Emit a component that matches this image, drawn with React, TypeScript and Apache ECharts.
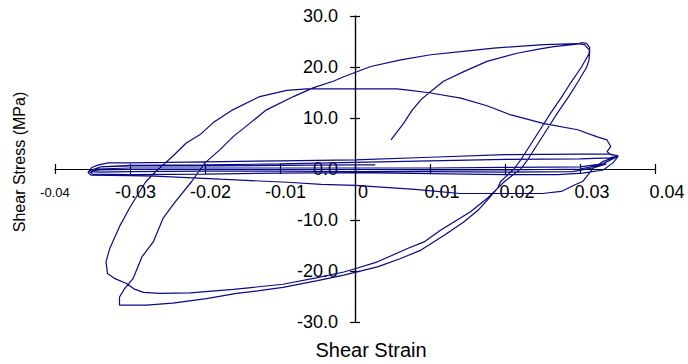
import React, { useEffect, useRef } from 'react';
import * as echarts from 'echarts';

const xTickLabels = ['-0.04', '-0.03', '-0.02', '-0.01', '0', '0.01', '0.02', '0.03', '0.04'];
const yTickLabels = ['-30.0', '-20.0', '-10.0', '0.0', '10.0', '20.0', '30.0'];

type Pt = [number, number];

// [shear strain, shear stress (MPa)]
const initialLoading: Pt[] = [
  [0.0048, 5.7], [0.0065, 9.0], [0.0076, 11.5], [0.0088, 13.6], [0.0101, 15.2], [0.0118, 17.2],
  [0.0145, 19.1], [0.0176, 21.1], [0.0216, 22.7], [0.0245, 23.5], [0.0265, 24.0], [0.0296, 24.5],
  [0.0303, 24.8], [0.0309, 24.6], [0.0313, 23.8], [0.0312, 22.6],
];
const unloadP: Pt[] = [
  [0.0302, 20.0], [0.0288, 17.0], [0.0275, 14.0], [0.0261, 11.0], [0.0248, 8.0], [0.0235, 5.0],
  [0.0222, 2.0], [0.0212, 0.0], [0.0194, -2.5], [0.0190, -3.8], [0.0177, -6.0], [0.0164, -8.1],
  [0.0145, -10.4], [0.0119, -13.0], [0.0088, -15.9], [0.0060, -17.6], [0.0030, -19.2], [-0.0015, -20.8],
];
const lowerBranch2: Pt[] = [
  [-0.0050, -21.9], [-0.0096, -23.2], [-0.0130, -23.9], [-0.0158, -24.4], [-0.0198, -25.4],
  [-0.0243, -26.3], [-0.0278, -26.7], [-0.0314, -26.7], [-0.0314, -25.1], [-0.0307, -23.4],
  [-0.0296, -21.5], [-0.0284, -17.2], [-0.0269, -14.3], [-0.0256, -9.7], [-0.0240, -6.5], [-0.0218, -2.5],
];
const reloadB: Pt[] = [
  [-0.0200, 1.2], [-0.0180, 3.8], [-0.0162, 6.4], [-0.0140, 9.0], [-0.0118, 11.6], [-0.0082, 14.2],
  [-0.0056, 15.9], [-0.0029, 17.2], [-0.0015, 18.1], [0.0021, 20.1], [0.0061, 21.4], [0.0101, 22.4],
  [0.0141, 23.0], [0.0185, 23.7], [0.0252, 24.4], [0.0296, 24.6], [0.0306, 24.4], [0.0313, 23.2],
  [0.0312, 21.4],
];
const unloadQ: Pt[] = [
  [0.0309, 20.0], [0.0297, 17.0], [0.0284, 14.0], [0.0270, 11.0], [0.0257, 8.0], [0.0244, 5.0],
  [0.0231, 2.0], [0.0221, 0.0], [0.0199, -2.5], [0.0176, -5.8], [0.0154, -8.4], [0.0114, -12.0],
  [0.0092, -14.3], [0.0070, -15.6], [0.0030, -18.2], [-0.0001, -19.6], [-0.0015, -20.2],
];
const lowerBranch1: Pt[] = [
  [-0.0050, -21.3], [-0.0096, -22.6], [-0.0162, -23.6], [-0.0220, -24.3], [-0.0260, -24.4],
  [-0.0282, -24.2], [-0.0295, -23.5], [-0.0304, -22.5], [-0.0320, -21.5], [-0.0330, -20.5],
  [-0.0332, -18.2], [-0.0327, -15.6], [-0.0313, -11.0], [-0.0300, -7.5], [-0.0279, -2.5],
];
const reloadA: Pt[] = [
  [-0.0262, 0.0], [-0.0243, 2.5], [-0.0225, 5.1], [-0.0207, 6.7], [-0.0189, 9.1], [-0.0163, 11.6],
  [-0.0127, 14.2], [-0.0091, 15.4], [-0.0064, 15.7], [-0.0015, 15.7], [0.0056, 15.7], [0.0074, 15.4],
  [0.0101, 14.9], [0.0141, 13.9], [0.0176, 12.4], [0.0208, 10.6], [0.0252, 8.9], [0.0297, 7.7],
  [0.0323, 6.3], [0.0336, 5.7], [0.0341, 4.4], [0.0336, 3.4], [0.0341, 2.8], [0.0351, 2.6],
];
const bandTop1: Pt[] = [
  [0.0340, 2.9], [0.0300, 2.9], [0.0200, 2.8], [0.0100, 2.3], [0.0000, 1.8], [-0.0100, 1.6],
  [-0.0200, 1.4], [-0.0300, 1.2], [-0.0329, 1.2], [-0.0342, 0.8], [-0.0351, 0.3], [-0.0356, -0.7],
];
const bandLowest: Pt[] = [
  [-0.0352, -1.2], [-0.0300, -1.3], [-0.0267, -1.4], [-0.0180, -2.0], [-0.0090, -2.6], [-0.0045, -3.0],
  [0.0000, -3.2], [0.0080, -4.0], [0.0140, -4.8], [0.0250, -4.8], [0.0275, -4.4], [0.0292, -3.2],
  [0.0304, -2.4], [0.0318, 0.2], [0.0331, 1.5], [0.0351, 2.6],
];
const bandTop2: Pt[] = [
  [0.0340, 2.2], [0.0300, 2.0], [0.0200, 1.9], [0.0100, 1.6], [0.0000, 1.3], [-0.0100, 1.0],
  [-0.0200, 0.8], [-0.0300, 0.7], [-0.0340, 0.4], [-0.0355, -0.4],
];
const bandBottom3: Pt[] = [
  [-0.0350, -1.0], [-0.0300, -1.1], [-0.0200, -1.0], [-0.0100, -0.8], [0.0000, -0.7], [0.0100, -0.9],
  [0.0200, -1.1], [0.0270, -1.1], [0.0304, -0.8], [0.0331, -0.2], [0.0344, 1.2], [0.0351, 2.5],
];
const bandTop3: Pt[] = [
  [0.0330, 1.0], [0.0300, 0.4], [0.0200, 0.3], [0.0100, 0.2], [0.0000, 0.2], [-0.0100, 0.2],
  [-0.0200, 0.2], [-0.0300, 0.2], [-0.0345, 0.0], [-0.0352, -0.5],
];
const bandBottom2: Pt[] = [
  [-0.0340, -0.6], [-0.0300, -0.5], [-0.0200, -0.4], [-0.0100, -0.4], [0.0000, -0.5], [0.0100, -0.5],
  [0.0200, -0.6], [0.0290, -0.5], [0.0320, 0.3], [0.0335, 1.0],
];
const bandBottom1: Pt[] = [
  [0.0300, 0.0], [0.0200, -0.2], [0.0100, -0.2], [0.0000, -0.1], [-0.0100, -0.1], [-0.0200, -0.1],
  [-0.0300, -0.1], [-0.0340, -0.2], [-0.0350, -0.3],
];
const bandFinal: Pt[] = [
  [-0.0340, 0.4], [-0.0300, 0.6], [-0.0200, 0.6], [-0.0100, 0.7], [0.0000, 0.8], [0.0027, 0.8],
];

const FONT = 'Liberation Sans, Arial, Helvetica, sans-serif';

// grid geometry: plot box 600 x 306, origin at its centre
const GRID = { left: 55, right: 33, top: 16, bottom: 42 };
const X_SHIFT = 300; // move y axes from the left/right edge to x = 0
const Y_SHIFT = 153; // move x axes from the bottom/top edge to y = 0

export default function App() {
  const ref = useRef<HTMLDivElement>(null);
  useEffect(() => {
    if (!ref.current) return;
    const chart = echarts.init(ref.current, null, { renderer: 'svg' });
    const path: Pt[] = [
      ...initialLoading, ...unloadP, ...lowerBranch2, ...reloadB, ...unloadQ, ...lowerBranch1,
      ...reloadA, ...bandTop1, ...bandLowest, ...bandTop2, ...bandBottom3, ...bandTop3,
      ...bandBottom2, ...bandBottom1, ...bandFinal,
    ];
    const axisLine = { show: true, onZero: false, lineStyle: { color: '#000', width: 1.2 } };
    const axisTick = { show: true, inside: false, length: 5, lineStyle: { color: '#000', width: 1.2 } };
    chart.setOption({
      animation: false,
      backgroundColor: '#fff',
      grid: { ...GRID, containLabel: false, outerBoundsMode: 'none' },
      xAxis: [
        {
          type: 'value', position: 'bottom', offset: -Y_SHIFT, min: -0.04, max: 0.04, interval: 0.01,
          axisLine, axisTick, splitLine: { show: false },
          axisLabel: {
            show: true, margin: 14, fontSize: 18, color: '#000', fontFamily: FONT,
            showMinLabel: true, showMaxLabel: true, hideOverlap: false,
            formatter: (v: number) => {
              const i = Math.round((v + 0.04) / 0.01);
              const s = xTickLabels[i];
              if (i === 0) return `{small|${s}}`;
              if (s.startsWith('-')) return `{neg|${s}}`;
              if (s === '0') return `{zero|${s}}`;
              return `{pos|${s}}`;
            },
            rich: {
              small: { fontSize: 13, color: '#000', fontFamily: FONT, padding: [3, 0, 0, 0] },
              neg: { fontSize: 18, color: '#000', fontFamily: FONT, padding: [0, 0, 0, 11] },
              zero: { fontSize: 18, color: '#000', fontFamily: FONT, padding: [0, 0, 0, 16] },
              pos: { fontSize: 18, color: '#000', fontFamily: FONT, padding: [0, 0, 0, 24] },
            },
          },
          name: 'Shear Strain', nameLocation: 'middle', nameGap: 171, nameMoveOverlap: false,
          nameTextStyle: { fontSize: 20, color: '#000', fontFamily: FONT, padding: [0, 0, 0, 32] },
        },
        {
          type: 'value', position: 'top', offset: -Y_SHIFT, min: -0.04, max: 0.04, interval: 0.01,
          axisLine, axisTick, splitLine: { show: false }, axisLabel: { show: false },
        },
      ],
      yAxis: [
        {
          type: 'value', position: 'left', offset: -X_SHIFT, min: -30, max: 30, interval: 10,
          axisLine, axisTick, splitLine: { show: false },
          axisLabel: {
            show: true, margin: 17, fontSize: 18, color: '#000', fontFamily: FONT,
            showMinLabel: true, showMaxLabel: true, hideOverlap: false,
            formatter: (v: number) => yTickLabels[Math.round((v + 30) / 10)],
          },
          name: 'Shear Stress (MPa)', nameLocation: 'middle', nameGap: 328, nameMoveOverlap: false,
          nameTextStyle: { fontSize: 16, color: '#000', fontFamily: FONT, padding: [0, 0, 0, 14] },
        },
        {
          type: 'value', position: 'right', offset: -X_SHIFT, min: -30, max: 30, interval: 10,
          axisLine, axisTick, splitLine: { show: false }, axisLabel: { show: false },
        },
      ],
      series: [
        {
          type: 'line', xAxisIndex: 0, yAxisIndex: 0, data: path, showSymbol: false, symbol: 'none',
          smooth: false, lineStyle: { color: '#0a0a86', width: 1.2 }, z: 5,
        },
      ],
    });
    return () => chart.dispose();
  }, []);
  return <div ref={ref} style={{ position: 'fixed', left: 0, top: 0, width: 688, height: 364 }} />;
}
